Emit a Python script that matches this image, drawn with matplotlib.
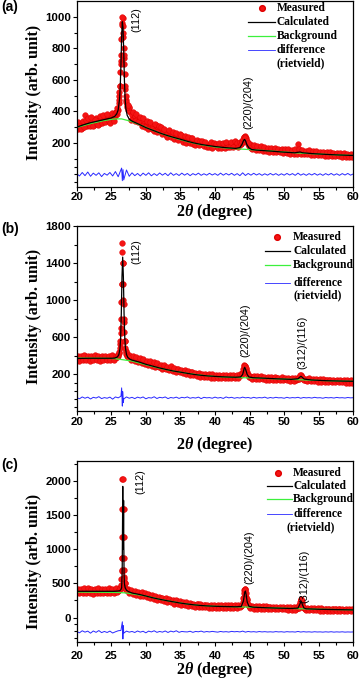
import numpy as np
import matplotlib
matplotlib.use('Agg')
import matplotlib.pyplot as plt

plt.rcParams['font.family'] = ['Liberation Sans', 'DejaVu Sans']
plt.rcParams['font.weight'] = 'bold'
plt.rcParams['mathtext.fontset'] = 'custom'
plt.rcParams['mathtext.rm'] = 'Liberation Serif:bold'
plt.rcParams['mathtext.it'] = 'Liberation Serif:italic:bold'
plt.rcParams['mathtext.bf'] = 'Liberation Serif:bold'

# ---------------- data ----------------
MEAS_X0, MEAS_STEP = 20.0, 0.25      # first measured set: 20, 20.25, ...
MEAS2_X0 = 20.125                    # second measured set: 20.125, 20.375, ...
DIFF_X0, DIFF_STEP = 20.0, 0.4

# ---- panel (a)
a_meas = [300, 285, 318, 296, 330, 375, 310, 340, 325, 348, 315, 360, 338, 322, 355, 345,
          360, 338, 372, 350, 365, 348, 372, 380, 410, 560, 960, 870, 540, 440, 420, 395,
          378, 360, 372, 350, 345, 330, 348, 320, 315, 330, 300, 312, 305, 290, 312, 285,
          280, 295, 270, 265, 268, 250, 262, 245, 250, 238, 232, 245, 230, 240, 218, 225,
          222, 210, 228, 205, 212, 200, 198, 208, 195, 202, 188, 192, 186, 195, 180, 190,
          178, 185, 175, 190, 182, 176, 192, 185, 190, 180, 195, 186, 182, 178, 188, 195,
          215, 240, 228, 195, 178, 170, 172, 165, 168, 160, 170, 162, 165, 158, 162, 155,
          158, 152, 160, 150, 152, 148, 155, 146, 150, 145, 152, 142, 147, 140, 150, 145,
          190, 148, 142, 140, 142, 138, 145, 136, 140, 134, 138, 132, 136, 130, 135, 128,
          133, 127, 132, 125, 130, 124, 128, 122, 128, 122, 126, 120, 125, 120, 124, 118,
          122]
a_meas2 = [335, 310, 290, 340, 300, 345, 355, 305, 365, 310, 345, 320, 312, 370, 325, 375,
           330, 385, 340, 325, 390, 340, 395, 385, 500, 720, 990, 740, 470, 410, 430, 345,
           395, 340, 385, 330, 365, 310, 355, 300, 340, 285, 330, 290, 275, 320, 270, 305,
           300, 255, 290, 248, 240, 280, 235, 270, 222, 262, 218, 255, 250, 208, 245, 200,
           235, 198, 232, 190, 185, 220, 188, 215, 210, 178, 205, 175, 172, 205, 170, 200,
           195, 168, 198, 170, 200, 168, 205, 172, 172, 205, 175, 210, 200, 172, 205, 210,
           225, 245, 205, 180, 190, 158, 185, 155, 178, 152, 180, 150, 172, 148, 170, 145,
           165, 142, 168, 140, 162, 140, 160, 136, 158, 135, 160, 132, 155, 132, 158, 130,
           160, 132, 155, 130, 150, 128, 152, 126, 148, 125, 146, 122, 145, 120, 142, 118,
           140, 118, 142, 115, 138, 115, 136, 114, 135, 112, 134, 110, 132, 110, 130, 108]
a_peak_x = [25.6, 25.7, 25.8, 25.9, 26.05, 26.1, 26.15, 26.2, 26.3, 26.35, 26.4, 26.45, 26.55,
            26.6, 26.65, 26.7, 26.8, 26.85, 26.9, 26.95, 27.05, 27.1, 27.15, 27.3, 27.4,
            43.8, 43.9, 44.1, 44.2, 44.3, 44.4, 44.6, 44.7]
a_peak_y = [380, 395, 400, 420, 450, 470, 520, 560, 650, 700, 760, 860, 950,
            1000, 940, 900, 800, 760, 700, 640, 560, 500, 460, 430, 440,
            195, 205, 225, 235, 240, 232, 210, 200]
a_calc_x = [20, 21, 22, 23, 24, 25, 25.5, 25.8, 26.0, 26.2, 26.3, 26.4, 26.5, 26.6, 26.7, 26.8,
            26.9, 27.0, 27.1, 27.3, 27.6, 28, 29, 30, 31, 32, 33, 34, 35, 36, 37, 38, 39, 40,
            41, 42, 43, 43.6, 43.9, 44.1, 44.25, 44.4, 44.6, 44.9, 45.3, 46, 48, 50, 51.5, 52,
            52.3, 52.7, 54, 56, 58, 60]
a_calc_y = [300, 315, 328, 338, 348, 358, 368, 385, 410, 480, 560, 700, 880, 968, 930, 780,
            600, 480, 420, 375, 350, 338, 318, 297, 280, 263, 248, 235, 223, 210, 199, 190, 183, 177,
            172, 168, 165, 170, 190, 212, 222, 215, 190, 168, 158, 154, 148, 141, 137, 140,
            142, 137, 132, 127, 123, 120]
a_bg_x = [20, 22, 24, 25.5, 26.5, 28, 30, 32, 34, 36, 38, 40, 42, 44, 46, 48, 50, 52, 54, 56, 58, 60]
a_bg_y = [298, 322, 342, 352, 352, 335, 298, 262, 233, 208, 188, 174, 166, 160, 155, 149, 142,
          136, 131, 127, 123, 120]
a_diff = [5, -10, 12, -8, 15, -12, 8, -6, 10, -14,
          6, -5, 12, -10, 18, -15, 30, -35, 28, -12,
          10, -8, 6, -10, 8, -6, 10, -9, 5, -7,
          9, -5, 7, -8, 10, -6, 5, -7, 8, -5,
          6, -8, 5, -4, 8, -6, 4, -5, 7, -4,
          5, -6, 8, -5, 6, -4, 7, -6, 5, -8,
          10, -7, 6, -5, 7, -4, 5, -6, 4, -5,
          6, -4, 5, -6, 4, -5, 6, -4, 5, -6,
          8, -5, 4, -6, 5, -4, 6, -5, 4, -6,
          5, -4, 6, -5, 4, -6, 5, -4, 6, -5,
          3]
a_spike_x = [26.5, 26.6, 26.7]
a_spike_y = [40, -40, 30]

# ---- panel (b)
b_meas = [375, 360, 380, 365, 372, 390, 368, 378, 365, 380, 370, 385, 372, 360, 378, 368,
          380, 365, 375, 370, 368, 382, 372, 385, 400, 520, 1170, 1170, 560, 420, 390, 380,
          372, 360, 368, 352, 345, 355, 335, 342, 320, 330, 312, 318, 300, 312, 290, 295,
          280, 290, 268, 275, 262, 255, 265, 248, 245, 238, 250, 232, 228, 235, 220, 225,
          215, 208, 218, 202, 200, 195, 205, 192, 190, 185, 192, 182, 180, 186, 175, 182,
          176, 172, 180, 170, 175, 168, 178, 172, 170, 176, 168, 174, 172, 168, 178, 185,
          220, 295, 250, 185, 172, 165, 170, 162, 168, 158, 165, 155, 160, 155, 162, 152,
          155, 150, 158, 148, 152, 146, 150, 145, 148, 143, 150, 142, 145, 140, 146, 138,
          150, 175, 182, 150, 140, 136, 142, 134, 138, 132, 136, 130, 134, 128, 132, 126,
          132, 126, 130, 124, 128, 122, 126, 121, 126, 120, 124, 119, 124, 118, 122, 117,
          120]
b_meas2 = [400, 345, 395, 350, 405, 352, 398, 345, 395, 348, 402, 355, 398, 345, 395, 352,
           392, 350, 400, 348, 402, 355, 395, 380, 430, 700, 1400, 760, 450, 395, 410, 350,
           390, 345, 385, 330, 370, 322, 365, 312, 345, 298, 340, 290, 325, 280, 320, 272,
           298, 258, 300, 252, 280, 240, 282, 232, 262, 222, 258, 218, 245, 208, 240, 200,
           228, 190, 225, 185, 215, 178, 212, 172, 202, 168, 200, 165, 195, 162, 198, 160,
           190, 158, 192, 155, 188, 155, 190, 158, 185, 156, 190, 160, 188, 158, 195, 215,
           255, 290, 215, 170, 180, 150, 182, 148, 175, 145, 178, 142, 172, 140, 170, 138,
           165, 136, 168, 135, 162, 134, 164, 132, 160, 130, 162, 128, 155, 128, 158, 145,
           150, 190, 170, 140, 150, 124, 152, 122, 148, 120, 146, 118, 142, 116, 144, 115,
           140, 114, 138, 112, 136, 112, 138, 110, 134, 110, 135, 108, 132, 108, 130, 106]
b_peak_x = [25.8, 26.0, 26.1, 26.2, 26.3, 26.35, 26.4, 26.45, 26.55, 26.6, 26.6, 26.65, 26.7,
            26.8, 26.85, 26.9, 26.95, 27.05, 27.1, 27.15, 27.3, 27.4,
            43.9, 44.1, 44.2, 44.35, 44.45, 44.6, 44.8, 52.2, 52.35, 52.6]
b_peak_y = [380, 410, 440, 480, 560, 640, 800, 980, 1520, 1618, 1170, 1400, 1000,
            960, 800, 650, 560, 480, 440, 420, 400, 385,
            200, 250, 285, 290, 270, 220, 190, 170, 185, 170]
b_calc_x = [20, 22, 24, 25, 25.5, 25.9, 26.1, 26.25, 26.35, 26.45, 26.55, 26.65, 26.75, 26.85,
            26.95, 27.05, 27.2, 27.4, 27.7, 28, 29, 30, 31, 32, 33, 34, 35, 36, 37, 38, 39, 40,
            41, 42, 43, 43.7, 44.0, 44.2, 44.3, 44.45, 44.65, 44.9, 45.5, 47, 49, 51, 52.0,
            52.3, 52.45, 52.6, 52.9, 54, 56, 58, 60]
b_calc_y = [368, 370, 370, 370, 372, 385, 410, 470, 580, 850, 1250, 1464, 1250, 850,
            600, 480, 410, 378, 360, 350, 330, 305, 285, 265, 248, 232, 220, 207, 195, 186, 179, 174,
            170, 167, 165, 168, 195, 255, 272, 245, 195, 168, 160, 155, 148, 142, 148,
            168, 175, 165, 145, 135, 128, 124, 121]
b_bg_x = [20, 22, 24, 25.5, 26.6, 28, 30, 32, 34, 36, 38, 40, 42, 44, 46, 48, 50, 52, 54, 56, 58, 60]
b_bg_y = [372, 371, 370, 366, 355, 340, 300, 262, 232, 207, 187, 173, 165, 160, 156, 150, 145,
          139, 133, 128, 124, 121]
b_diff = [-55, -68, -48, -62, -50, -70, -52, -60, -45, -66,
          -55, -62, -50, -72, -48, -58, -40, -70, -48, -62,
          -52, -66, -50, -60, -48, -68, -55, -60, -46, -65,
          -52, -58, -48, -66, -54, -60, -50, -64, -52, -58,
          -48, -62, -55, -60, -50, -66, -52, -58, -55, -62,
          -50, -60, -54, -64, -48, -58, -52, -62, -55, -60,
          -50, -58, -54, -62, -52, -60, -55, -58, -50, -62,
          -54, -60, -52, -58, -56, -62, -52, -60, -55, -58,
          -52, -62, -54, -58, -55, -60, -52, -58, -56, -62,
          -54, -58, -55, -60, -53, -58, -56, -60, -54, -58,
          -56]
b_spike_x = [26.5, 26.6, 26.65, 26.75]
b_spike_y = [50, -147, 10, -110]

# ---- panel (c)
c_meas = [395, 370, 410, 385, 400, 375, 392, 415, 380, 398, 372, 405, 390, 378, 400, 382,
          395, 372, 388, 402, 385, 398, 378, 392, 395, 420, 690, 1590, 500, 400, 385, 378,
          370, 360, 375, 352, 350, 340, 356, 332, 325, 318, 330, 305, 300, 292, 305, 285,
          278, 285, 265, 272, 258, 248, 262, 242, 238, 228, 242, 220, 218, 212, 205, 215,
          200, 192, 205, 185, 188, 180, 192, 175, 178, 170, 182, 165, 172, 162, 175, 160,
          168, 160, 172, 158, 165, 158, 170, 160, 162, 170, 158, 165, 160, 168, 162, 175,
          230, 400, 300, 180, 162, 155, 160, 150, 158, 150, 155, 148, 152, 146, 150, 142,
          148, 140, 146, 138, 145, 138, 142, 135, 142, 136, 140, 132, 138, 132, 136, 130,
          145, 200, 250, 150, 132, 126, 130, 122, 128, 122, 126, 120, 125, 118, 122, 116,
          122, 116, 120, 114, 120, 114, 118, 112, 118, 112, 116, 110, 116, 110, 114, 108,
          112]
c_meas2 = [425, 360, 420, 355, 428, 365, 430, 358, 420, 352, 425, 362, 430, 360, 418, 355,
           425, 358, 430, 365, 420, 355, 428, 370, 400, 460, 1190, 600, 420, 425, 360, 400,
           340, 390, 330, 378, 322, 368, 310, 355, 300, 342, 290, 330, 270, 318, 262, 300,
           250, 292, 242, 280, 228, 270, 222, 258, 205, 250, 200, 238, 190, 232, 185, 225,
           175, 215, 170, 205, 160, 200, 158, 192, 150, 190, 148, 185, 145, 185, 142, 182,
           142, 182, 140, 180, 140, 180, 142, 178, 142, 178, 140, 182, 145, 180, 150, 190,
           300, 420, 260, 165, 135, 172, 132, 170, 130, 168, 128, 165, 128, 162, 125, 160,
           122, 158, 120, 155, 120, 155, 118, 152, 118, 150, 116, 148, 115, 148, 114, 160,
           135, 255, 230, 135, 108, 142, 106, 138, 105, 138, 104, 135, 102, 135, 100, 132,
           100, 132, 98, 130, 98, 130, 96, 128, 96, 128, 95, 126, 94, 126, 93, 124]
c_peak_x = [26.3, 26.4, 26.45, 26.5, 26.55, 26.6, 26.62, 26.68, 26.62, 26.78, 26.6, 26.78,
            26.8, 26.85, 26.9, 26.95, 27.05, 27.1, 27.15,
            43.9, 44.1, 44.2, 44.3, 44.4, 44.5, 44.6, 44.75,
            52.2, 52.3, 52.4, 52.5, 52.6, 52.75]
c_peak_y = [440, 480, 560, 700, 880, 1190, 2040, 2040, 1590, 1590, 880, 1190,
            880, 700, 560, 500, 430, 420, 405,
            190, 280, 360, 420, 410, 360, 270, 200,
            180, 230, 265, 250, 200, 160]
c_calc_x = [20, 22, 24, 25.5, 26.2, 26.4, 26.5, 26.58, 26.63, 26.66, 26.69, 26.72, 26.75, 26.78,
            26.81, 26.85, 26.9, 27.0, 27.2, 27.5, 28, 29, 30, 31, 32, 33, 34, 35, 36, 37, 38, 39,
            40, 41, 42, 43, 43.8, 44.1, 44.3, 44.4, 44.5, 44.65, 44.9, 45.5, 47, 49, 51, 52.0,
            52.25, 52.45, 52.6, 52.85, 53.2, 55, 57, 60]
c_calc_y = [385, 385, 385, 385, 392, 410, 440, 700, 1400, 1927, 1300, 1000, 1280, 1720,
            1100, 650, 500, 440, 400, 380, 360, 340, 316, 290, 268, 248, 230, 212, 198, 186, 176, 170,
            165, 162, 160, 158, 162, 240, 370, 388, 340, 230, 165, 152, 145, 138, 133, 138,
            190, 243, 200, 140, 128, 121, 117, 112]
c_bg_x = [20, 22, 24, 26, 27, 28, 30, 32, 34, 36, 38, 40, 42, 44, 46, 48, 50, 52, 54, 56, 58, 60]
c_bg_y = [374, 372, 370, 367, 362, 348, 316, 268, 230, 197, 176, 165, 160, 155, 150, 143, 136,
          130, 124, 120, 116, 112]
c_diff = [-205, -225, -195, -215, -200, -230, -198, -218, -192, -222,
          -205, -220, -200, -228, -210, -195, -190, -230, -200, -215,
          -205, -220, -198, -215, -202, -225, -200, -212, -195, -218,
          -205, -215, -198, -220, -200, -212, -195, -218, -205, -210,
          -212, -202, -218, -205, -210, -200, -215, -206, -212, -204,
          -210, -215, -205, -212, -208, -214, -204, -210, -206, -212,
          -200, -215, -205, -212, -208, -214, -206, -212, -208, -213,
          -210, -214, -207, -212, -209, -215, -208, -212, -210, -214,
          -205, -214, -208, -213, -210, -215, -209, -213, -211, -215,
          -210, -214, -209, -215, -211, -214, -210, -215, -212, -214,
          -212]
c_spike_x = [26.6, 26.68, 26.75]
c_spike_y = [-63, -315, -120]

legend_labels = ['Measured', 'Calculated', 'Background', 'difference', '(rietvield)']
x_ticks = [20, 25, 30, 35, 40, 45, 50, 55, 60]
x_minor = [22.5, 27.5, 32.5, 37.5, 42.5, 47.5, 52.5, 57.5]

# ---------------- layout ----------------
W, H = 359, 685
fig = plt.figure(figsize=(W / 100, H / 100), dpi=100)

RED = '#f41414'
GREEN = '#3cf03c'
BLUE = '#2828ff'
SERIF = ['Liberation Serif', 'DejaVu Serif']
SANS = ['Liberation Sans', 'DejaVu Sans']


def px_box(top, bottom, left=76.7, right=353.3):
    return [left / W, 1 - bottom / H, (right - left) / W, (bottom - top) / H]


panels = [
    dict(tag='(a)', box=(1, 187), ylim=(-80, 1100),
         yt=[200, 400, 600, 800, 1000], ym=[-50, 0, 50, 100, 300, 500, 700, 900],
         meas=a_meas, meas2=a_meas2, px=a_peak_x, py=a_peak_y, cx=a_calc_x, cy=a_calc_y,
         bx=a_bg_x, by=a_bg_y, diff=a_diff, sx=a_spike_x, sy=a_spike_y,
         peaks=[('(112)', 28.7, 985), ('(220)/(204)', 44.8, 455)],
         leg=dict(h0=0.619, h1=0.717, dot=0.669, tx=0.724, tx2=0.724,
                  rows=[0.962, 0.886, 0.813, 0.738, 0.667]),
         tagy=7, ylab_y=92, xlab_y=212, xpad=1.3),
    dict(tag='(b)', box=(226, 411), ylim=(-200, 1800),
         yt=[200, 600, 1000, 1400, 1800], ym=[-160, -70, 15, 100, 400, 800, 1200, 1600],
         meas=b_meas, meas2=b_meas2, px=b_peak_x, py=b_peak_y, cx=b_calc_x, cy=b_calc_y,
         bx=b_bg_x, by=b_bg_y, diff=b_diff, sx=b_spike_x, sy=b_spike_y,
         peaks=[('(112)', 28.7, 1520), ('(220)/(204)', 44.4, 670), ('(312)/(116)', 52.6, 540)],
         leg=dict(h0=0.681, h1=0.771, dot=0.723, tx=0.782, tx2=0.782,
                  rows=[0.939, 0.866, 0.79, 0.694, 0.625]),
         tagy=229, ylab_y=316, xlab_y=445, xpad=1.8),
    dict(tag='(c)', box=(461, 642), ylim=(-360, 2300),
         yt=[0, 500, 1000, 1500, 2000], ym=[-300, -200, -100, 250, 750, 1250, 1750, 2250],
         meas=c_meas, meas2=c_meas2, px=c_peak_x, py=c_peak_y, cx=c_calc_x, cy=c_calc_y,
         bx=c_bg_x, by=c_bg_y, diff=c_diff, sx=c_spike_x, sy=c_spike_y,
         peaks=[('(112)', 29.15, 1990), ('(220)/(204)', 44.9, 890), ('(312)/(116)', 52.9, 610)],
         leg=dict(h0=0.688, h1=0.778, dot=0.729, tx=0.782, tx2=0.76,
                  rows=[0.936, 0.864, 0.788, 0.707, 0.636]),
         tagy=465, ylab_y=561, xlab_y=670, xpad=4.0),
]

for p in panels:
    ax = fig.add_axes(px_box(*p['box']))
    mx = MEAS_X0 + MEAS_STEP * np.arange(len(p['meas']))
    mx2 = MEAS2_X0 + MEAS_STEP * np.arange(len(p['meas2']))
    allx = np.concatenate([mx, mx2, p['px']])
    ally = np.concatenate([np.asarray(p['meas'], float), np.asarray(p['meas2'], float), p['py']])
    ax.plot(allx, ally, 'o', ls='none', ms=4.1, mfc=RED, mec='#e00000', mew=0.3, zorder=1)
    ax.plot(p['bx'], p['by'], color=GREEN, lw=0.9, zorder=2)
    ax.plot(p['cx'], p['cy'], color='black', lw=0.9, zorder=3)
    dx = DIFF_X0 + DIFF_STEP * np.arange(len(p['diff']))
    ddx = np.concatenate([dx, p['sx']])
    ddy = np.concatenate([np.asarray(p['diff'], float), p['sy']])
    order = np.argsort(ddx, kind='stable')
    ax.plot(ddx[order], ddy[order], color=BLUE, lw=0.7, zorder=2)

    ax.set_xlim(20, 60)
    ax.set_ylim(*p['ylim'])
    ax.set_xticks(x_ticks)
    ax.set_xticks(x_minor, minor=True)
    ax.set_yticks(p['yt'])
    ax.set_yticks(p['ym'], minor=True)
    ax.tick_params(which='both', direction='out', top=False, right=False, width=0.8)
    ax.tick_params(which='major', length=2.6, labelsize=8.2, pad=1.3)
    ax.tick_params(which='minor', length=1.9)
    ax.tick_params(axis='x', which='major', pad=p['xpad'])
    for s in ax.spines.values():
        s.set_linewidth(0.9)

    for txt, xx, yy in p['peaks']:
        ax.text(xx, yy, txt, rotation=90, ha='center', va='center', fontsize=7.8,
                family=SANS, fontweight='normal')

    L = p['leg']
    r = L['rows']
    tr = ax.transAxes
    ax.plot([L['dot']], [r[0]], 'o', ms=4.1, mfc=RED, mec='#e00000', transform=tr, clip_on=False)
    ax.plot([L['h0'], L['h1']], [r[1], r[1]], color='black', lw=0.9, transform=tr, clip_on=False)
    ax.plot([L['h0'], L['h1']], [r[2], r[2]], color=GREEN, lw=0.9, transform=tr, clip_on=False)
    ax.plot([L['h0'], L['h1']], [r[3], r[3]], color=BLUE, lw=0.6, transform=tr, clip_on=False)
    for i, lab in enumerate(legend_labels):
        tx = L['tx2'] if i == 4 else L['tx']
        ax.text(tx, r[i], lab, transform=tr, ha='left', va='center', fontsize=8.3,
                family=SERIF, fontweight='bold')

    fig.text(34.5 / W, 1 - p['ylab_y'] / H, 'Intensity (arb. unit)', rotation=90,
             ha='center', va='center', fontsize=11.5, family=SERIF, fontweight='bold')
    fig.text(215 / W, 1 - p['xlab_y'] / H, r'2$\theta$ (degree)', ha='center', va='center',
             fontsize=11.5, family=SERIF, fontweight='bold')
    fig.text(1 / W, 1 - p['tagy'] / H, p['tag'], ha='left', va='center', fontsize=10,
             fontweight='bold', family=SANS)

fig.savefig('out.png', dpi=100)
